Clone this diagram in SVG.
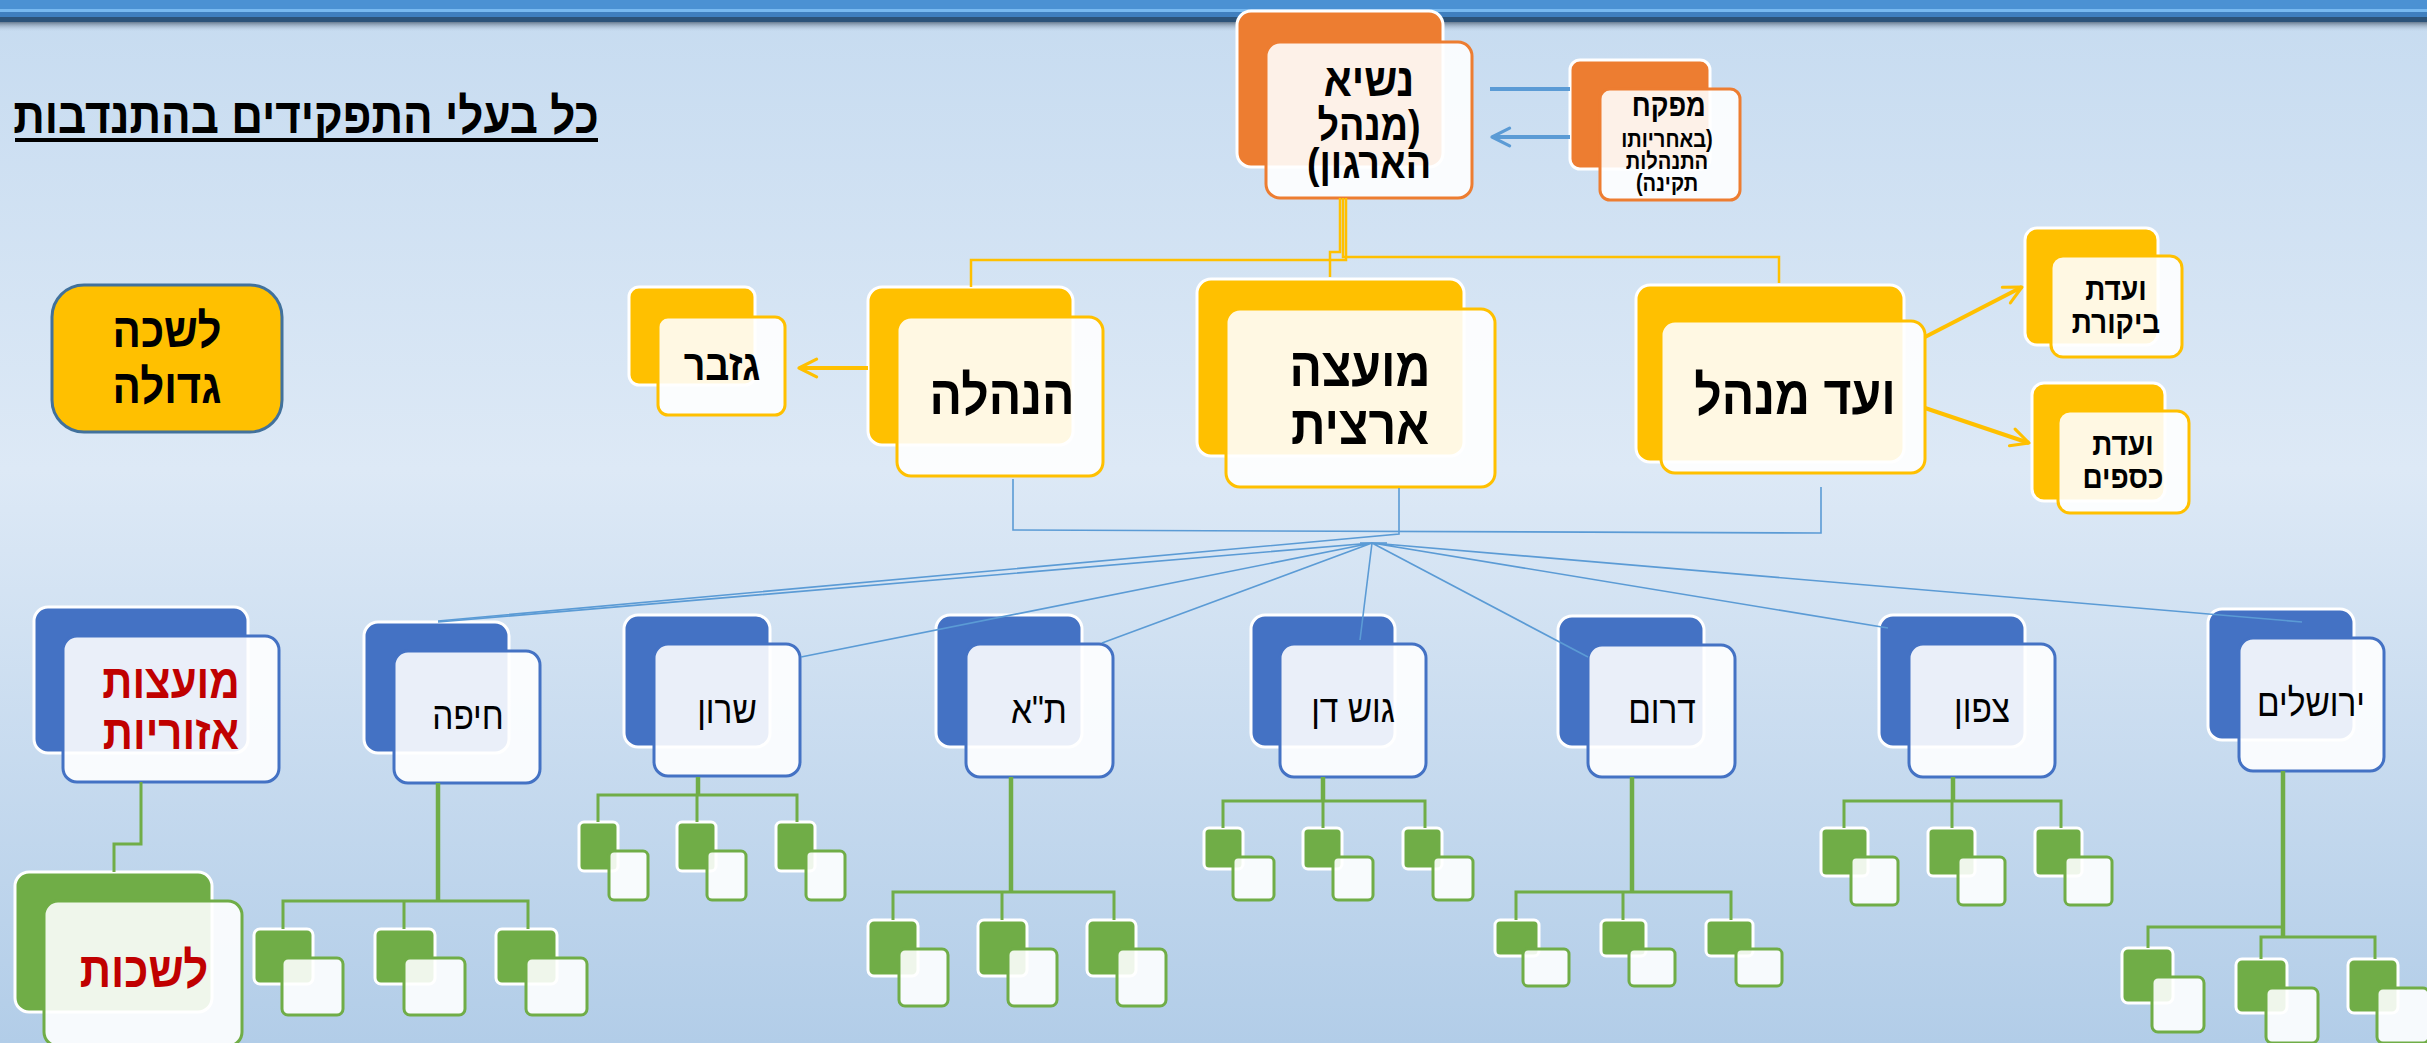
<svg xmlns="http://www.w3.org/2000/svg" width="2427" height="1043" viewBox="0 0 2427 1043">
<defs>
<linearGradient id="bg" x1="0" y1="0" x2="0" y2="1">
<stop offset="0" stop-color="#c6dbf0"/>
<stop offset="0.45" stop-color="#dde9f6"/>
<stop offset="1" stop-color="#b2cde8"/>
</linearGradient>
<linearGradient id="sh" x1="0" y1="0" x2="0" y2="1">
<stop offset="0" stop-color="#5d7085" stop-opacity="0.9"/>
<stop offset="1" stop-color="#c6dbf0" stop-opacity="0"/>
</linearGradient>
<marker id="arrY" viewBox="0 0 10 10" refX="9" refY="5" markerWidth="5.5" markerHeight="5.5" orient="auto" markerUnits="strokeWidth">
<path d="M1,1 L9,5 L1,9" fill="none" stroke="#ffc000" stroke-width="1.4" stroke-linecap="round" stroke-linejoin="round"/>
</marker>
<marker id="arrB" viewBox="0 0 10 10" refX="9" refY="5" markerWidth="5.5" markerHeight="5.5" orient="auto" markerUnits="strokeWidth">
<path d="M1,1 L9,5 L1,9" fill="none" stroke="#5b9bd5" stroke-width="1.4" stroke-linecap="round" stroke-linejoin="round"/>
</marker>
</defs>
<style>
.bo{fill:#ed7d31;stroke:#fff;stroke-width:3}
.fo{fill:#fff;fill-opacity:.89;stroke:#ed7d31;stroke-width:3}
.by{fill:#ffc000;stroke:#fff;stroke-width:3}
.fy{fill:#fff;fill-opacity:.89;stroke:#ffc000;stroke-width:3}
.bb{fill:#4472c4;stroke:#fff;stroke-width:3}
.fb{fill:#fff;fill-opacity:.89;stroke:#4472c4;stroke-width:3}
.bg{fill:#70ad47;stroke:#fff;stroke-width:3}
.fg{fill:#fff;fill-opacity:.89;stroke:#70ad47;stroke-width:3}
.t{font-family:"Liberation Sans","DejaVu Sans",sans-serif;direction:rtl;text-anchor:middle;fill:#000}
.b{font-weight:bold}
.red{fill:#c00000}
.cy{fill:none;stroke:#ffc000;stroke-width:2.5}
.cb{fill:none;stroke:#5b9bd5;stroke-width:1.6}
.cg{fill:none;stroke:#70ad47;stroke-width:3}
.cgt{fill:none;stroke:#70ad47;stroke-width:4.5}
</style>

<rect x="0" y="0" width="2427" height="1043" fill="url(#bg)"/>
<rect x="0" y="0" width="2427" height="9" fill="#4b91d3"/>
<rect x="0" y="9" width="2427" height="3" fill="#78b9f0"/>
<rect x="0" y="12" width="2427" height="5" fill="#3f7fbf"/>
<rect x="0" y="17" width="2427" height="5" fill="#2c5379"/>
<rect x="0" y="22" width="2427" height="10" fill="url(#sh)"/>

<g id="title">
<text class="t b" transform="translate(306,133) scale(0.88,1)" font-size="50">כל בעלי התפקידים בהתנדבות</text>
<rect x="15" y="138" width="583" height="4" fill="#000"/>
</g>

<g id="lishka-gdola">
<rect x="52" y="285" width="230" height="147" rx="32" fill="#ffc000" stroke="#41719c" stroke-width="3"/>
<text class="t b" transform="translate(167,0) scale(0.875,1)" font-size="48"><tspan x="0" y="347">לשכה</tspan><tspan x="0" y="403">גדולה</tspan></text>
</g>

<g id="nasi">
<rect class="bo" x="1237" y="11" width="206" height="156" rx="14"/>
<rect class="fo" x="1266" y="42" width="206" height="156" rx="14"/>
<text class="t b" transform="translate(1369,0) scale(0.875,1)" font-size="43"><tspan x="0" y="96" font-size="47">נשיא</tspan><tspan x="0" y="140">(מנהל</tspan><tspan x="0" y="178">הארגון)</tspan></text>
</g>

<g id="mefakeach">
<rect class="bo" x="1570" y="60" width="140" height="109" rx="10"/>
<rect class="fo" x="1600" y="89" width="140" height="111" rx="10"/>
<text class="t b" transform="translate(1667,0) scale(0.875,1)" font-size="23"><tspan x="2" y="116" font-size="31">מפקח</tspan><tspan x="0" y="147">(באחריותו</tspan><tspan x="0" y="169">התנהלות</tspan><tspan x="0" y="191">תקינה)</tspan></text>
</g>

<g id="gizbar">
<rect class="by" x="629" y="287" width="126" height="98" rx="10"/>
<rect class="fy" x="658" y="317" width="127" height="98" rx="10"/>
<text class="t b" transform="translate(722,380) scale(0.875,1)" font-size="43">גזבר</text>
</g>

<g id="hanhala">
<rect class="by" x="868" y="287" width="205" height="158" rx="14"/>
<rect class="fy" x="897" y="317" width="206" height="159" rx="14"/>
<text class="t b" transform="translate(1002,414) scale(0.875,1)" font-size="55">הנהלה</text>
</g>

<g id="moatza-artzit">
<rect class="by" x="1197" y="279" width="267" height="177" rx="14"/>
<rect class="fy" x="1226" y="309" width="269" height="178" rx="14"/>
<text class="t b" transform="translate(1360,0) scale(0.875,1)" font-size="55"><tspan x="0" y="386">מועצה</tspan><tspan x="0" y="444">ארצית</tspan></text>
</g>

<g id="vaad-menahel">
<rect class="by" x="1636" y="285" width="268" height="177" rx="14"/>
<rect class="fy" x="1661" y="321" width="264" height="152" rx="14"/>
<text class="t b" transform="translate(1795,414) scale(0.875,1)" font-size="55">ועד מנהל</text>
</g>

<g id="vaadat-bikoret">
<rect class="by" x="2025" y="228" width="133" height="117" rx="12"/>
<rect class="fy" x="2051" y="256" width="131" height="101" rx="12"/>
<text class="t b" transform="translate(2116,0) scale(0.875,1)" font-size="32"><tspan x="0" y="300">ועדת</tspan><tspan x="0" y="333">ביקורת</tspan></text>
</g>

<g id="vaadat-ksafim">
<rect class="by" x="2032" y="383" width="133" height="118" rx="12"/>
<rect class="fy" x="2058" y="411" width="131" height="102" rx="12"/>
<text class="t b" transform="translate(2123,0) scale(0.875,1)" font-size="32"><tspan x="0" y="455">ועדת</tspan><tspan x="0" y="488">כספים</tspan></text>
</g>

<g id="moatzot-ezoriot">
<rect class="bb" x="34" y="607" width="214" height="146" rx="14"/>
<rect class="fb" x="63" y="636" width="216" height="146" rx="14"/>
<text class="t b red" transform="translate(171,0) scale(0.875,1)" font-size="48"><tspan x="0" y="698">מועצות</tspan><tspan x="0" y="749">אזוריות</tspan></text>
</g>

<g id="lishkot">
<rect class="bg" x="15" y="872" width="197" height="140" rx="14"/>
<rect class="fg" x="44" y="901" width="198" height="145" rx="14"/>
<text class="t b red" transform="translate(144,987) scale(0.875,1)" font-size="50">לשכות</text>
</g>

<g id="haifa">
<rect class="bb" x="364" y="622" width="145" height="131" rx="14"/>
<rect class="fb" x="394" y="651" width="146" height="132" rx="14"/>
<text class="t" transform="translate(468,729) scale(0.88,1)" font-size="38">חיפה</text>
</g>

<g id="sharon">
<rect class="bb" x="624" y="615" width="146" height="132" rx="14"/>
<rect class="fb" x="654" y="644" width="146" height="132" rx="14"/>
<text class="t" transform="translate(727,723) scale(0.88,1)" font-size="38">שרון</text>
</g>

<g id="tel-aviv">
<rect class="bb" x="936" y="615" width="146" height="132" rx="14"/>
<rect class="fb" x="966" y="644" width="147" height="133" rx="14"/>
<text class="t" transform="translate(1039,723) scale(0.88,1)" font-size="38">ת"א</text>
</g>

<g id="gush-dan">
<rect class="bb" x="1251" y="615" width="144" height="132" rx="14"/>
<rect class="fb" x="1280" y="644" width="146" height="133" rx="14"/>
<text class="t" transform="translate(1353,722) scale(0.88,1)" font-size="38">גוש דן</text>
</g>

<g id="darom">
<rect class="bb" x="1558" y="616" width="146" height="131" rx="14"/>
<rect class="fb" x="1588" y="645" width="147" height="132" rx="14"/>
<text class="t" transform="translate(1662,723) scale(0.88,1)" font-size="38">דרום</text>
</g>

<g id="tzafon">
<rect class="bb" x="1879" y="615" width="146" height="132" rx="14"/>
<rect class="fb" x="1909" y="644" width="146" height="133" rx="14"/>
<text class="t" transform="translate(1982,722) scale(0.88,1)" font-size="38">צפון</text>
</g>

<g id="yerushalayim">
<rect class="bb" x="2208" y="609" width="146" height="131" rx="14"/>
<rect class="fb" x="2239" y="638" width="145" height="133" rx="14"/>
<text class="t" transform="translate(2311,716) scale(0.88,1)" font-size="38">ירושלים</text>
</g>

<g id="haifa-units">
<rect class="bg" x="254" y="929" width="59" height="55" rx="6"/><rect class="fg" x="282" y="958" width="61" height="57" rx="6"/>
<rect class="bg" x="375" y="929" width="60" height="55" rx="6"/><rect class="fg" x="404" y="958" width="61" height="57" rx="6"/>
<rect class="bg" x="496" y="929" width="61" height="55" rx="6"/><rect class="fg" x="526" y="958" width="61" height="57" rx="6"/>
</g>
<g id="sharon-units">
<rect class="bg" x="579" y="822" width="39" height="49" rx="5"/><rect class="fg" x="609" y="851" width="39" height="49" rx="5"/>
<rect class="bg" x="677" y="822" width="39" height="49" rx="5"/><rect class="fg" x="707" y="851" width="39" height="49" rx="5"/>
<rect class="bg" x="776" y="822" width="39" height="49" rx="5"/><rect class="fg" x="806" y="851" width="39" height="49" rx="5"/>
</g>
<g id="tel-aviv-units">
<rect class="bg" x="868" y="920" width="50" height="56" rx="6"/><rect class="fg" x="899" y="949" width="49" height="57" rx="6"/>
<rect class="bg" x="978" y="920" width="49" height="56" rx="6"/><rect class="fg" x="1008" y="949" width="49" height="57" rx="6"/>
<rect class="bg" x="1087" y="920" width="49" height="56" rx="6"/><rect class="fg" x="1117" y="949" width="49" height="57" rx="6"/>
</g>
<g id="gush-dan-units">
<rect class="bg" x="1204" y="828" width="39" height="41" rx="5"/><rect class="fg" x="1233" y="857" width="41" height="43" rx="5"/>
<rect class="bg" x="1303" y="828" width="39" height="41" rx="5"/><rect class="fg" x="1333" y="857" width="40" height="43" rx="5"/>
<rect class="bg" x="1403" y="828" width="39" height="41" rx="5"/><rect class="fg" x="1433" y="857" width="40" height="43" rx="5"/>
</g>
<g id="darom-units">
<rect class="bg" x="1495" y="920" width="44" height="36" rx="5"/><rect class="fg" x="1523" y="949" width="46" height="37" rx="5"/>
<rect class="bg" x="1601" y="920" width="45" height="36" rx="5"/><rect class="fg" x="1629" y="949" width="46" height="37" rx="5"/>
<rect class="bg" x="1706" y="920" width="47" height="36" rx="5"/><rect class="fg" x="1736" y="949" width="46" height="37" rx="5"/>
</g>
<g id="tzafon-units">
<rect class="bg" x="1821" y="828" width="47" height="48" rx="5"/><rect class="fg" x="1851" y="857" width="47" height="48" rx="5"/>
<rect class="bg" x="1928" y="828" width="47" height="48" rx="5"/><rect class="fg" x="1958" y="857" width="47" height="48" rx="5"/>
<rect class="bg" x="2035" y="828" width="47" height="48" rx="5"/><rect class="fg" x="2065" y="857" width="47" height="48" rx="5"/>
</g>
<g id="yerushalayim-units">
<rect class="bg" x="2122" y="948" width="51" height="55" rx="6"/><rect class="fg" x="2152" y="977" width="52" height="55" rx="6"/>
<rect class="bg" x="2236" y="959" width="51" height="54" rx="6"/><rect class="fg" x="2266" y="988" width="52" height="55" rx="6"/>
<rect class="bg" x="2348" y="959" width="50" height="54" rx="6"/><rect class="fg" x="2377" y="988" width="52" height="55" rx="6"/>
</g>

<g id="connectors">
<path class="cy" d="M1340,198 V252 H1330 V277"/>
<path class="cy" d="M1343,198 V257 H1779 V283"/>
<path class="cy" d="M1346,198 V260 H971 V287"/>
<line x1="868" y1="368" x2="799" y2="368" stroke="#ffc000" stroke-width="4" marker-end="url(#arrY)"/>
<line x1="1925" y1="337" x2="2022" y2="287" stroke="#ffc000" stroke-width="4" marker-end="url(#arrY)"/>
<line x1="1925" y1="408" x2="2029" y2="443" stroke="#ffc000" stroke-width="4" marker-end="url(#arrY)"/>
<line x1="1490" y1="89" x2="1570" y2="89" stroke="#5b9bd5" stroke-width="4"/>
<line x1="1570" y1="137" x2="1492" y2="137" stroke="#5b9bd5" stroke-width="4" marker-end="url(#arrB)"/>
<path class="cb" d="M1013,479 V530 L1821,533 V487"/>
<path class="cb" d="M1399,488 V534 L438,621"/>
<path class="cb" d="M1360,543 H1387"/>
<path class="cb" d="M1372,543 L438,622 M1372,543 L801,657 M1372,543 L1102,643 M1372,543 L1360,640 M1372,543 L1588,657 M1372,543 L1888,628 M1372,543 L2302,622"/>
<path class="cg" d="M141,782 V844 H114 V872"/>
<path class="cgt" d="M438,783 V901"/>
<path class="cg" d="M283,929 V901 H528 V929 M404,901 V929"/>
<path class="cgt" d="M698,777 V795"/>
<path class="cg" d="M598,822 V795 H797 V822 M697,795 V822"/>
<path class="cgt" d="M1011,777 V892"/>
<path class="cg" d="M893,920 V892 H1114 V920 M1002,892 V920"/>
<path class="cgt" d="M1323,777 V801"/>
<path class="cg" d="M1223,828 V801 H1425 V828 M1323,801 V828"/>
<path class="cgt" d="M1632,777 V892"/>
<path class="cg" d="M1516,920 V892 H1731 V920 M1623,892 V920"/>
<path class="cgt" d="M1953,777 V801"/>
<path class="cg" d="M1844,828 V801 H2061 V828 M1952,801 V828"/>
<path class="cgt" d="M2283,771 V937"/>
<path class="cg" d="M2283,927 H2148 V948 M2261,959 V937 H2375 V959"/>
</g>
</svg>
